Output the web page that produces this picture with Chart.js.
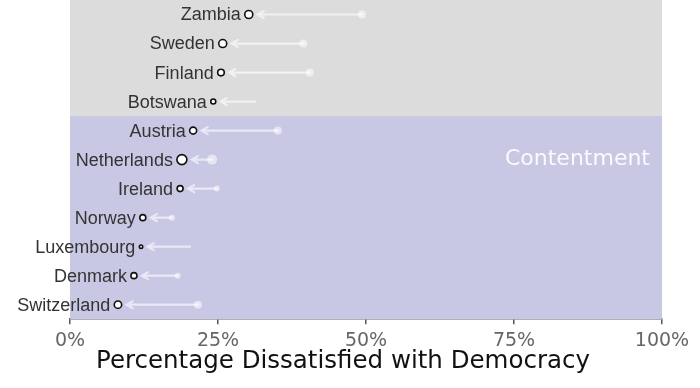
<!DOCTYPE html>
<html>
<head>
<meta charset="utf-8">
<script src="https://cdn.jsdelivr.net/npm/chart.js@4"></script>
<style>
  html, body { margin: 0; padding: 0; background: #fff; }
</style>
</head>
<body>
<canvas id="dumbbell" width="700" height="388"></canvas>
<script>
const countries = ["Zambia", "Sweden", "Finland", "Botswana", "Austria", "Netherlands",
    "Ireland", "Norway", "Luxembourg", "Denmark", "Switzerland"];
const earlier = [49.3, 39.4, 40.5, 31.3, 35.1, 24.0, 24.8, 17.2, 20.3, 18.2, 21.6];
const latest = [30.2, 25.8, 25.5, 24.2, 20.8, 18.9, 18.6, 12.3, 12.0, 10.8, 8.1];
const sampleSize = [4, 4, 3.3, 2.5, 3.5, 5, 3, 3, 1.7, 3, 3.7];
const earlierSize = [4, 4, 4, 0, 4, 5, 3, 3, 0, 3, 4];
const contentGroup = ["Austria", "Netherlands", "Ireland", "Norway", "Luxembourg", "Denmark", "Switzerland"];
const xTicks = [0, 25, 50, 75, 100];
const xTitle = "Percentage Dissatisfied with Democracy";

const canvas = document.getElementById("dumbbell");

const bands = {
    id: "bands",
    beforeDatasetsDraw(chart) {
        const {ctx, chartArea, scales} = chart;
        const step = scales.y.getPixelForValue(1) - scales.y.getPixelForValue(0);
        const split = scales.y.getPixelForValue(countries.indexOf(contentGroup[0])) - step / 2;
        ctx.save();
        ctx.fillStyle = "#dcdcdc";
        ctx.fillRect(chartArea.left, chartArea.top, chartArea.width, split - chartArea.top);
        ctx.fillStyle = "#c8c8e5";
        ctx.fillRect(chartArea.left, split, chartArea.width, chartArea.bottom - split);
        ctx.fillStyle = "rgba(255,255,255,0.9)";
        ctx.font = "22px 'DejaVu Sans'";
        ctx.textAlign = "right";
        ctx.textBaseline = "middle";
        ctx.fillText("Contentment", chartArea.right - 12, scales.y.getPixelForValue(countries.indexOf("Netherlands")));

        // arrows from earlier value to latest value
        ctx.strokeStyle = "rgba(255,255,255,0.6)";
        ctx.lineWidth = 2.2;
        ctx.lineCap = "round";
        countries.forEach((c, i) => {
            const y = scales.y.getPixelForValue(i);
            const x0 = scales.x.getPixelForValue(earlier[i]);
            const x1 = scales.x.getPixelForValue(latest[i]) + sampleSize[i] + 5;
            ctx.beginPath();
            ctx.moveTo(x0, y);
            ctx.lineTo(x1, y);
            ctx.moveTo(x1 + 6, y - 3.5);
            ctx.lineTo(x1, y);
            ctx.lineTo(x1 + 6, y + 3.5);
            ctx.stroke();
        });
        ctx.restore();
    }
};

const names = {
    id: "names",
    afterDatasetsDraw(chart) {
        const {ctx, scales} = chart;
        ctx.save();
        ctx.fillStyle = "#333";
        ctx.font = "18px 'Liberation Sans'";
        ctx.textAlign = "right";
        ctx.textBaseline = "middle";
        countries.forEach((c, i) => {
            const x = scales.x.getPixelForValue(latest[i]) - sampleSize[i] - 4;
            ctx.fillText(c, x, scales.y.getPixelForValue(i) + 1);
        });
        // axis title, centred on the figure
        ctx.fillStyle = "#111";
        ctx.font = "24.5px 'DejaVu Sans'";
        ctx.textAlign = "center";
        ctx.fillText(xTitle, 343, 362);
        ctx.restore();
    }
};

const chart = new Chart(canvas, {
    type: "scatter",
    data: {
        labels: countries,
        datasets: [
            {
                label: "earlier",
                data: countries.map((c, i) => ({x: earlier[i], y: c})),
                pointRadius: earlierSize,
                backgroundColor: "rgba(255,255,255,0.55)",
                borderWidth: 0
            }, {
                label: "latest",
                data: countries.map((c, i) => ({x: latest[i], y: c})),
                pointRadius: sampleSize,
                backgroundColor: "#fff",
                borderColor: "#111",
                borderWidth: 1.6
            }
        ]
    },
    options: {
        responsive: false,
        animation: false,
        layout: {autoPadding: false, padding: {left: 70, right: 38, top: 0, bottom: 31}},
        scales: {
            x: {
                type: "linear",
                min: 0,
                max: 100,
                afterBuildTicks: (axis) => { axis.ticks = xTicks.map(v => ({value: v})); },
                grid: {drawOnChartArea: false, drawTicks: true, tickLength: 5, color: "#555", lineWidth: 1.5},
                border: {display: true, color: "#555", width: 1.5},
                ticks: {
                    callback: (v) => v + "%",
                    color: "#666",
                    padding: 5,
                    font: {family: "DejaVu Sans", size: 19}
                }
            },
            y: {
                type: "category",
                labels: countries,
                offset: true,
                display: false
            }
        },
        plugins: {
            legend: {display: false},
            tooltip: {enabled: false}
        }
    },
    plugins: [bands, names]
});
</script>
</body>
</html>
